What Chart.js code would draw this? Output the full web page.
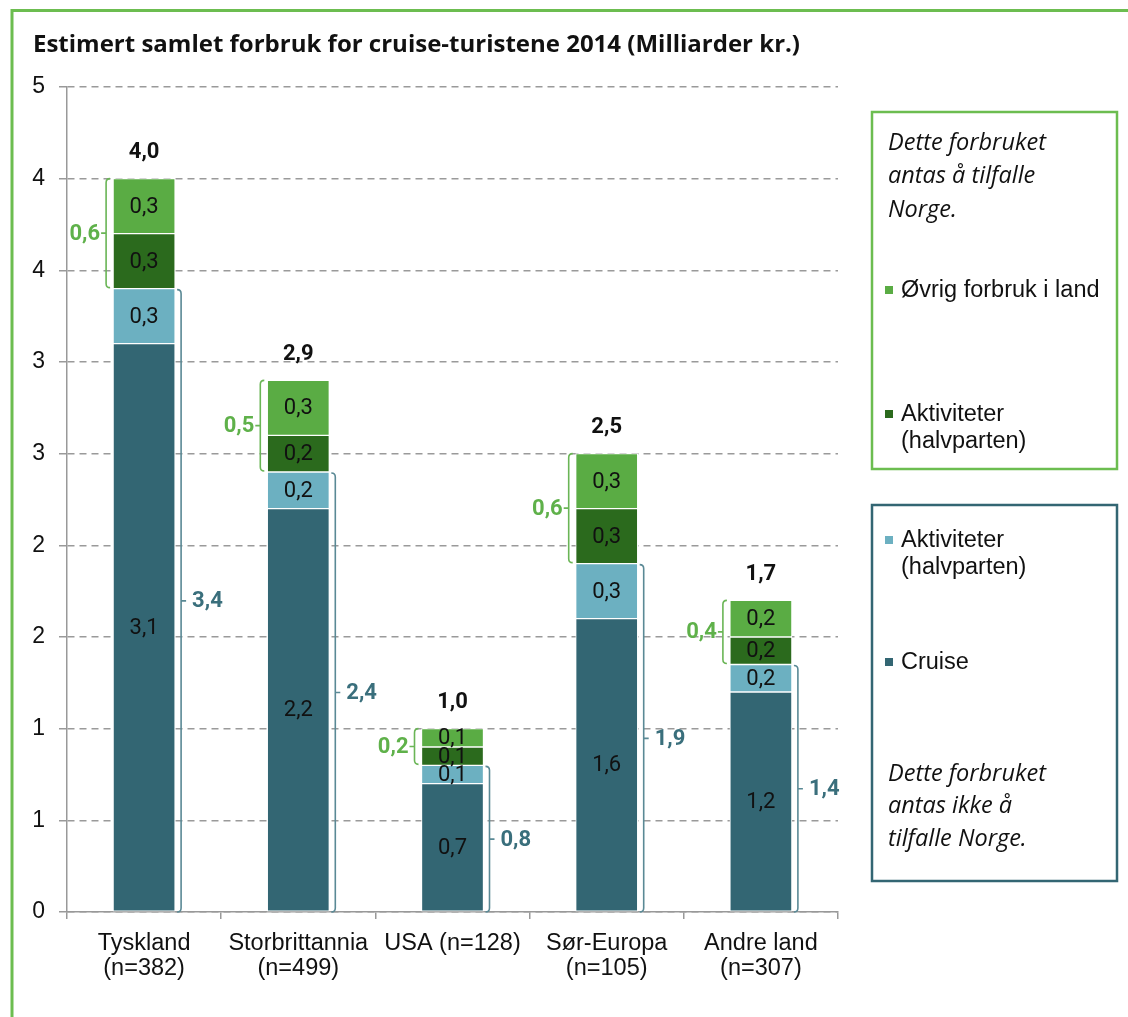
<!DOCTYPE html>
<html>
<head>
<meta charset="utf-8">
<script src="https://cdn.jsdelivr.net/npm/chart.js@4/dist/chart.umd.min.js"></script>
<style>
html,body{margin:0;padding:0;background:#fff;}
#wrap{width:1128px;height:1017px;position:relative;}
</style>
</head>
<body>
<div id="wrap"><canvas id="c"></canvas></div>
<script>
// ---- data ----
const categories = [["Tyskland","(n=382)"],["Storbrittannia","(n=499)"],["USA (n=128)"],["Sør-Europa","(n=105)"],["Andre land","(n=307)"]];
const cruise         = [3.1, 2.2, 0.7, 1.6, 1.2];
const aktivIkkeNorge = [0.3, 0.2, 0.1, 0.3, 0.15];
const aktivNorge     = [0.3, 0.2, 0.1, 0.3, 0.15];
const ovrigLand      = [0.3, 0.3, 0.1, 0.3, 0.2];
const yTickLabels    = ["0","1","1","2","2","3","3","4","4","5"];
const seriesNames    = ["Cruise","Aktiviteter (halvparten)","Aktiviteter (halvparten)","Øvrig forbruk i land"];
const titleText      = "Estimert samlet forbruk for cruise-turistene 2014 (Milliarder kr.)";
const noteNorway     = ["Dette forbruket","antas å tilfalle","Norge."];
const noteNotNorway  = ["Dette forbruket","antas ikke å","tilfalle Norge."];

// ---- styles ----
const C_CRUISE = '#336673', C_LBLUE = '#6cb0c1', C_DGREEN = '#2b6a1d', C_LGREEN = '#5aac44';
const C_FRAME = '#6cbd50', C_TEAL_TXT = '#3a6f7c', C_TEAL_LINE = '#5a8995', C_GREEN_TXT = '#5fb14a', C_GREEN_LINE = '#6ab556';
const DIN = "Roboto, 'DejaVu Sans', sans-serif";
const WIDE = "'Open Sans', Roboto, sans-serif";
const ARIAL = "'Liberation Sans', Arial, sans-serif";
const fmt = v => (Math.round(v * 10 + 1e-6) / 10).toFixed(1).replace('.', ',');

const overlay = {
  id: 'overlay',
  beforeDraw(chart) {
    const ctx = chart.ctx;
    ctx.save();
    ctx.strokeStyle = C_FRAME; ctx.lineWidth = 3;
    ctx.beginPath(); ctx.moveTo(12, 1017); ctx.lineTo(12, 10.5); ctx.lineTo(1128, 10.5); ctx.stroke();
    ctx.fillStyle = '#111'; ctx.font = 'bold 24px ' + WIDE;
    ctx.textBaseline = 'middle'; ctx.textAlign = 'left';
    ctx.fillText(titleText, 33, 45);
    ctx.restore();
  },
  afterDatasetsDraw(chart) {
    const ctx = chart.ctx;
    const ys = chart.scales.y;
    const ds = chart.data.datasets;
    ctx.save();
    // segment labels
    ctx.textAlign = 'center'; ctx.textBaseline = 'middle';
    ctx.font = '22px ' + DIN; ctx.fillStyle = '#111';
    ds.forEach((d, i) => {
      chart.getDatasetMeta(i).data.forEach((el, j) => {
        ctx.fillText(fmt(d.data[j]), el.x, (el.y + el.base) / 2 + 1);
      });
    });
    // totals and brackets
    const meta0 = chart.getDatasetMeta(0).data;
    categories.forEach((c, j) => {
      const total = ds.reduce((s, d) => s + d.data[j], 0);
      const lower = ds[0].data[j] + ds[1].data[j];
      const upper = ds[2].data[j] + ds[3].data[j];
      const el = meta0[j];
      const left = el.x - el.width / 2, right = el.x + el.width / 2;
      ctx.font = 'bold 22px ' + DIN; ctx.fillStyle = '#111'; ctx.textAlign = 'center';
      ctx.fillText(fmt(total), el.x, ys.getPixelForValue(total) - 26);
      // teal bracket (right)
      let bx = right + 6, yT = ys.getPixelForValue(lower) + 1, yB = ys.getPixelForValue(0);
      ctx.strokeStyle = C_TEAL_LINE; ctx.lineWidth = 1.6;
      ctx.beginPath();
      ctx.moveTo(bx - 4, yT); ctx.quadraticCurveTo(bx, yT, bx, yT + 4);
      ctx.lineTo(bx, yB - 4); ctx.quadraticCurveTo(bx, yB, bx - 4, yB);
      let mid = (yT + yB) / 2;
      ctx.moveTo(bx, mid); ctx.lineTo(bx + 5, mid);
      ctx.stroke();
      ctx.fillStyle = C_TEAL_TXT; ctx.textAlign = 'left';
      ctx.fillText(fmt(lower), bx + 11, mid + 1);
      // green bracket (left)
      bx = left - 7; yT = ys.getPixelForValue(total); yB = ys.getPixelForValue(lower) - 1;
      ctx.strokeStyle = C_GREEN_LINE;
      ctx.beginPath();
      ctx.moveTo(bx + 4, yT); ctx.quadraticCurveTo(bx, yT, bx, yT + 4);
      ctx.lineTo(bx, yB - 4); ctx.quadraticCurveTo(bx, yB, bx + 4, yB);
      mid = (yT + yB) / 2;
      ctx.moveTo(bx, mid); ctx.lineTo(bx - 5, mid);
      ctx.stroke();
      ctx.fillStyle = C_GREEN_TXT; ctx.textAlign = 'right';
      ctx.fillText(fmt(upper), bx - 6, mid + 1);
    });
    // legend panels
    ctx.lineWidth = 2.5;
    ctx.strokeStyle = C_FRAME; ctx.strokeRect(872, 112, 245, 357);
    ctx.strokeStyle = C_CRUISE; ctx.strokeRect(872, 505, 245, 376);
    ctx.textAlign = 'left'; ctx.fillStyle = '#111';
    ctx.font = 'italic 23.5px ' + WIDE;
    noteNorway.forEach((t, k) => ctx.fillText(t, 888, 143 + k * 33.5));
    noteNotNorway.forEach((t, k) => ctx.fillText(t, 888, 774 + k * 32.5));
    const entries = [[3, 290], [2, 414], [1, 540], [0, 662]];
    ctx.font = '23.5px ' + ARIAL;
    entries.forEach(([i, y]) => {
      ctx.fillStyle = ds[i].backgroundColor;
      ctx.fillRect(885, y - 4, 8, 8);
      ctx.fillStyle = '#111';
      const lbl = ds[i].label;
      const p = lbl.indexOf(' (');
      const lines = p > 0 ? [lbl.slice(0, p), lbl.slice(p + 1)] : [lbl];
      lines.forEach((t, k) => ctx.fillText(t, 901, y + 1 + k * 26.5));
    });
    ctx.restore();
  }
};

Chart.defaults.font.family = ARIAL;
Chart.defaults.color = '#111';

const barOpts = { borderColor: '#ffffff', borderWidth: 1, borderSkipped: false, barThickness: 62 };
new Chart(document.getElementById('c'), {
  type: 'bar',
  data: {
    labels: categories,
    datasets: [
      Object.assign({ label: seriesNames[0], data: cruise, backgroundColor: C_CRUISE }, barOpts),
      Object.assign({ label: seriesNames[1], data: aktivIkkeNorge, backgroundColor: C_LBLUE }, barOpts),
      Object.assign({ label: seriesNames[2], data: aktivNorge, backgroundColor: C_DGREEN }, barOpts),
      Object.assign({ label: seriesNames[3], data: ovrigLand, backgroundColor: C_LGREEN }, barOpts)
    ]
  },
  options: {
    responsive: true, maintainAspectRatio: false, animation: false, devicePixelRatio: 1,
    layout: { padding: { left: 0, right: 290, top: 87, bottom: 0 } },
    plugins: { legend: { display: false }, tooltip: { enabled: false } },
    scales: {
      x: {
        stacked: true,
        afterFit(s) { s.height = 105; },
        grid: { display: true, drawOnChartArea: false, drawTicks: true, tickLength: 7, color: '#999', lineWidth: 1.5, offset: true },
        border: { display: true, color: '#999', width: 1.5 },
        ticks: { font: { size: 23.5, lineHeight: 1.07 }, color: '#111', padding: 12, maxRotation: 0, autoSkip: false }
      },
      y: {
        stacked: true, min: 0, max: 4.5,
        afterFit(s) { s.width = 67; },
        afterBuildTicks(s) { s.ticks = yTickLabels.map((t, i) => ({ value: i * 0.5 })); },
        grid: { color: '#9a9a9a', lineWidth: 1.5, tickLength: 8, tickColor: '#999', tickBorderDash: [] },
        border: { display: true, color: '#999', width: 1.5, dash: [7, 5] },
        ticks: { font: { size: 23 }, color: '#111', padding: 14, callback: (v, i) => yTickLabels[i] }
      }
    }
  },
  plugins: [overlay]
});
</script>
</body>
</html>
